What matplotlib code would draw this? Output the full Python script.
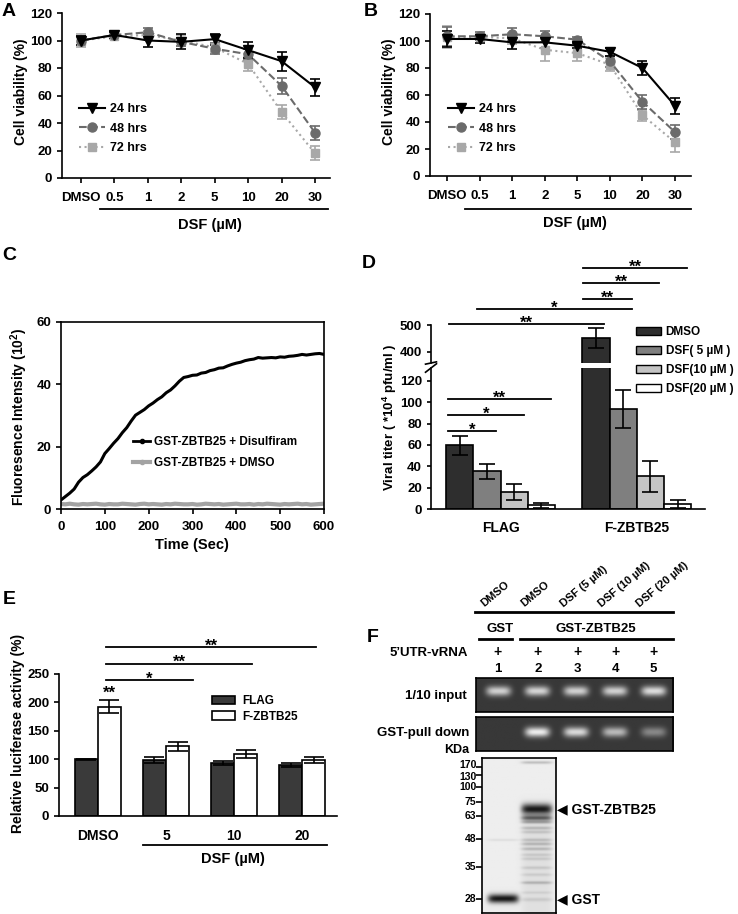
import numpy as np
import matplotlib
matplotlib.use("Agg")
import matplotlib.pyplot as plt
from matplotlib.lines import Line2D
from matplotlib.patches import Patch

plt.rcParams['font.family'] = ['Liberation Sans', 'DejaVu Sans']
plt.rcParams['font.weight'] = 'bold'
plt.rcParams['axes.labelweight'] = 'bold'
plt.rcParams['font.size'] = 9
plt.rcParams['axes.linewidth'] = 1.2
plt.rcParams['xtick.major.width'] = 1.2
plt.rcParams['ytick.major.width'] = 1.2
plt.rcParams['xtick.major.size'] = 3.5
plt.rcParams['ytick.major.size'] = 3.5
plt.rcParams['mathtext.fontset'] = 'custom'
plt.rcParams['mathtext.rm'] = 'Liberation Sans:bold'
plt.rcParams['mathtext.it'] = 'Liberation Sans:bold'
plt.rcParams['mathtext.bf'] = 'Liberation Sans:bold'

W, H = 738, 914

# ---- A / B : cell viability
doses = ["DMSO", "0.5", "1", "2", "5", "10", "20", "30"]
a_24 = [100, 104, 100, 99, 101, 93, 85, 66]
a_24_err = [3, 2, 4.5, 5.5, 4, 6, 7, 6]
a_48 = [100, 104, 106, 99, 94, 90, 67, 33]
a_48_err = [3, 2, 3, 3, 4, 4, 6, 5]
a_72 = [100, 103, 104, 100, 95, 83, 48, 18]
a_72_err = [5, 2, 3, 4, 3, 5, 5, 5]

b_24 = [101.5, 101.5, 99, 99, 96.5, 92, 80, 52]
b_24_err = [6, 3, 5, 4, 2, 3, 5, 6]
b_48 = [103.5, 103.5, 105, 103.5, 101, 85, 55, 32.5]
b_48_err = [7, 3, 5, 4, 2, 4, 5, 5]
b_72 = [103, 103, 102, 93.5, 91, 82.5, 45, 25]
b_72_err = [8, 2, 4, 8, 6, 5, 4, 7]

# ---- C : fluorescence time course
c_time = list(range(0, 601, 10))
c_dsf = [2.9, 4.0, 5.1, 6.4, 8.6, 10.1, 11.0, 12.2, 13.5, 15.1,
         17.8, 19.4, 21.1, 22.6, 24.5, 26.1, 28.2, 30.1, 31.0, 31.9,
         33.1, 34.0, 35.1, 36.0, 37.3, 38.2, 39.5, 41.0, 42.2, 42.5,
         42.9, 43.0, 43.6, 43.8, 44.4, 44.7, 45.2, 45.3, 45.9, 46.4,
         46.8, 47.1, 47.6, 47.9, 48.1, 48.6, 48.4, 48.5, 48.6, 48.5,
         48.8, 48.7, 49.0, 49.1, 49.3, 49.6, 49.4, 49.6, 49.8, 49.9, 49.6]
c_dmso = [1.6, 1.5, 1.7, 1.5, 1.4, 1.6, 1.5, 1.6, 1.7, 1.5,
          1.4, 1.6, 1.5, 1.5, 1.7, 1.6, 1.5, 1.4, 1.6, 1.7,
          1.5, 1.6, 1.5, 1.4, 1.6, 1.5, 1.7, 1.6, 1.5, 1.5,
          1.6, 1.4, 1.5, 1.7, 1.6, 1.5, 1.6, 1.4, 1.5, 1.6,
          1.7, 1.5, 1.5, 1.6, 1.4, 1.6, 1.5, 1.7, 1.6, 1.5,
          1.4, 1.6, 1.5, 1.6, 1.7, 1.5, 1.6, 1.4, 1.5, 1.6, 1.7]

# ---- D : viral titer
d_groups = ["FLAG", "F-ZBTB25"]
d_series = ["DMSO", "DSF( 5 \u00b5M )", "DSF(10 \u00b5M )", "DSF(20 \u00b5M )"]
d_flag = [59.5, 35.3, 15.6, 3.4]
d_flag_err = [9, 7, 7.5, 2.2]
d_fz = [452, 93.5, 30.6, 5]
d_fz_err = [36, 17.5, 14.5, 3.6]
d_colors = ['#2e2e2e', '#7f7f7f', '#c4c4c4', 'white']

# ---- E : luciferase
e_doses = ["DMSO", "5", "10", "20"]
e_flag = [100, 98, 93.5, 90]
e_flag_err = [1, 5, 3.5, 4]
e_fz = [192, 123, 109, 99]
e_fz_err = [11.5, 8, 7, 5]

# ---- F : pull-down
lane_labels = ["DMSO", "DMSO", "DSF (5 \u00b5M)", "DSF (10 \u00b5M)", "DSF (20 \u00b5M)"]
lane_nums = ["1", "2", "3", "4", "5"]
input_band = [0.80, 0.82, 0.80, 0.80, 0.86]
pulldown_band = [0.0, 0.95, 0.85, 0.68, 0.42]
mw_kda = ["170", "130", "100", "75", "63", "48", "35", "28"]
mw_pos = [9, 17, 29, 44, 58, 81, 109, 141]
gst_lane_bands = [(141, 0.95, 4.5), (82, 0.08, 1.0)]
zbtb_lane_bands = [(51, 0.95, 5.5), (60, 0.55, 2.5), (64, 0.3, 1.5), (70, 0.2, 1.5),
                   (74, 0.15, 1.5), (82, 0.18, 1.5), (86, 0.22, 1.5), (91, 0.2, 1.5),
                   (97, 0.12, 1.5), (101, 0.12, 1.5), (110, 0.12, 1.5), (117, 0.1, 1.5),
                   (125, 0.22, 1.5), (135, 0.08, 1.5), (142, 0.1, 2), (4, 0.2, 1.5)]

fig = plt.figure(figsize=(W / 100, H / 100), dpi=100)


def px_axes(l, t, r, b):
    return fig.add_axes([l / W, 1 - b / H, (r - l) / W, (b - t) / H])


def ftext(x, y, s, **kw):
    kw.setdefault('ha', 'center')
    kw.setdefault('va', 'center')
    fig.text(x / W, 1 - y / H, s, **kw)


def fline(x0, x1, y, lw=1.3):
    fig.add_artist(Line2D([x0 / W, x1 / W], [1 - y / H, 1 - y / H], color='black', lw=lw))


def viability(ax, s24, e24, s48, e48, s72, e72, xlim, leg_xy):
    x = np.arange(len(doses))
    kw = dict(lw=1.5, capsize=3.5, elinewidth=1.2, capthick=1.2)
    h72 = ax.errorbar(x, s72, yerr=e72, color='#a8a8a8', ls=':', marker='s', ms=5.5, **kw)
    h48 = ax.errorbar(x, s48, yerr=e48, color='#6b6b6b', ls='--', marker='o', ms=6.5, **kw)
    h24 = ax.errorbar(x, s24, yerr=e24, color='black', ls='-', marker='v', ms=7, **kw)
    ax.set_xlim(*xlim)
    ax.set_ylim(0, 120)
    ax.set_yticks(range(0, 121, 20))
    ax.set_xticks(x)
    ax.set_xticklabels(doses, fontsize=9.5)
    ax.tick_params(axis='y', labelsize=9.5)
    ax.tick_params(axis='x', pad=6.5)
    ax.spines[['top', 'right']].set_visible(False)
    ax.legend([h24[0], h48[0], h72[0]], ["24 hrs", "48 hrs", "72 hrs"],
              loc='upper left', bbox_to_anchor=(leg_xy[0] / W, 1 - leg_xy[1] / H),
              bbox_transform=fig.transFigure, frameon=False, fontsize=9,
              handlelength=2.1, handletextpad=0.4, labelspacing=0.6,
              borderpad=0, borderaxespad=0)


# Panel A
axa = px_axes(62, 13, 330, 178)
viability(axa, a_24, a_24_err, a_48, a_48_err, a_72, a_72_err, (-0.57, 7.45), (79, 103))
ftext(21, 92, "Cell viability (%)", rotation=90, fontsize=10)
fline(100, 328, 209)
ftext(210, 225, "DSF (\u00b5M)", fontsize=10.5)
ftext(9, 11, "A", fontsize=14)

# Panel B
axb = px_axes(430, 14, 691, 176)
viability(axb, b_24, b_24_err, b_48, b_48_err, b_72, b_72_err, (-0.52, 7.49), (448, 103))
ftext(389, 92, "Cell viability (%)", rotation=90, fontsize=10)
fline(465, 691, 209)
ftext(575, 223, "DSF (\u00b5M)", fontsize=10.5)
ftext(371, 11, "B", fontsize=14)

# Panel C
axc = px_axes(61, 322, 324, 509)
axc.plot(c_time, c_dsf, color='black', lw=2.2, label="GST-ZBTB25 + Disulfiram")
axc.plot(c_time, c_dmso, color='#a3a3a3', lw=3, label="GST-ZBTB25 + DMSO")
axc.set_xlim(0, 600)
axc.set_ylim(0, 60)
axc.set_xticks(range(0, 601, 100))
axc.set_yticks([0, 20, 40, 60])
axc.tick_params(labelsize=9.5, top=False, right=False)
axc.tick_params(axis='x', pad=5)
c_handles = [Line2D([], [], color='black', lw=2, marker='o', ms=3),
             Line2D([], [], color='#a3a3a3', lw=3, marker='o', ms=3)]
axc.legend(c_handles, ["GST-ZBTB25 + Disulfiram", "GST-ZBTB25 + DMSO"],
           loc='upper left', bbox_to_anchor=(133 / W, 1 - 436 / H), bbox_transform=fig.transFigure,
           frameon=False, fontsize=8.5, handlelength=1.45, handletextpad=0.3, labelspacing=0.75,
           borderpad=0, borderaxespad=0)
ftext(19, 417, "Fluoresence Intensity (10$^2$)", rotation=90, fontsize=10)
ftext(192, 545, "Time (Sec)", fontsize=10.5)
ftext(9, 256, "C", fontsize=14)

# Panel D (broken y axis)
axd_lo = px_axes(431, 368, 705, 509)
axd_hi = px_axes(431, 325, 705, 363)
axd_hi.patch.set_alpha(0)
gx = np.arange(len(d_groups))
offs = [-0.3, -0.1, 0.1, 0.3]
for ax in (axd_lo, axd_hi):
    for i in range(4):
        ax.bar(gx + offs[i], [d_flag[i], d_fz[i]], 0.2, color=d_colors[i], edgecolor='black',
               lw=1.2, yerr=[d_flag_err[i], d_fz_err[i]], capsize=6,
               error_kw=dict(lw=1.2, capthick=1.2))
    ax.set_xlim(-0.51, 1.5)
    ax.spines[['top', 'right']].set_visible(False)
axd_lo.set_ylim(0, 132)
axd_lo.set_yticks(range(0, 121, 20))
axd_lo.set_xticks(gx)
axd_lo.set_xticklabels(d_groups, fontsize=10)
axd_lo.tick_params(axis='x', length=0, pad=9)
axd_lo.tick_params(axis='y', labelsize=9.5, length=3)
axd_hi.set_ylim(359, 500)
axd_hi.set_yticks([400, 500])
axd_hi.set_xticks([])
axd_hi.spines['bottom'].set_visible(False)
axd_hi.tick_params(axis='y', labelsize=9.5, length=3)
for ax, yy in ((axd_hi, 0.0), (axd_lo, 1.0)):
    ax.plot([-0.02, 0.02], [yy - 0.03, yy + 0.03], transform=ax.transAxes, color='black',
            lw=1.2, clip_on=False)

d_lo_brackets = [(-0.386, -0.033, 73, "*"), (-0.386, 0.173, 88, "*"), (-0.386, 0.371, 103, "**")]
d_hi_brackets = [(-0.379, 0.761, 504, "**"), (-0.173, 0.967, 559, "*"), (0.607, 0.967, 596, "**"),
                 (0.607, 1.165, 656, "**"), (0.607, 1.371, 711, "**")]
for ax, brs in ((axd_lo, d_lo_brackets), (axd_hi, d_hi_brackets)):
    for x0, x1, yv, s in brs:
        ax.plot([x0, x1], [yv, yv], color='black', lw=1.3, clip_on=False)
        ax.annotate(s, ((x0 + x1) / 2, yv), xytext=(0, -2.5), textcoords='offset points',
                    ha='center', va='baseline', fontsize=12, annotation_clip=False)
fig.legend([Patch(facecolor=c, edgecolor='black', lw=1.0) for c in d_colors], d_series,
           loc='upper left', bbox_to_anchor=(636 / W, 1 - 326 / H), bbox_transform=fig.transFigure,
           frameon=False, fontsize=8.5, handlelength=2.1, handleheight=0.7, handletextpad=0.42,
           labelspacing=0.6, borderpad=0, borderaxespad=0)
ftext(390, 417, "Viral titer ( *10$^4$ pfu/ml )", rotation=90, fontsize=9.5)
ftext(369, 263, "D", fontsize=14)

# Panel E
axe = px_axes(59, 674, 337, 816)
ex = np.arange(len(e_doses))
axe.bar(ex - 0.17, e_flag, 0.34, color='#3a3a3a', edgecolor='black', lw=1.2, yerr=e_flag_err,
        capsize=7, error_kw=dict(lw=1.2, capthick=1.2), label="FLAG")
axe.bar(ex + 0.17, e_fz, 0.34, color='white', edgecolor='black', lw=1.2, yerr=e_fz_err,
        capsize=7, error_kw=dict(lw=1.2, capthick=1.2), label="F-ZBTB25")
axe.set_xlim(-0.57, 3.51)
axe.set_ylim(0, 250)
axe.set_yticks(range(0, 251, 50))
axe.set_xticks(ex)
axe.set_xticklabels(e_doses, fontsize=10)
axe.tick_params(axis='x', length=0, pad=9)
axe.tick_params(axis='y', labelsize=9.5)
axe.spines[['top', 'right']].set_visible(False)
e_brackets = [(0.118, 1.397, 239, "*"), (0.118, 2.265, 268, "**"), (0.118, 3.206, 297, "**")]
for x0, x1, yv, s in e_brackets:
    axe.plot([x0, x1], [yv, yv], color='black', lw=1.3, clip_on=False)
    axe.annotate(s, ((x0 + x1) / 2, yv), xytext=(0, -2.5), textcoords='offset points',
                 ha='center', va='baseline', fontsize=12, annotation_clip=False)
axe.annotate("**", (0.17, e_fz[0] + e_fz_err[0]), xytext=(0, 2), textcoords='offset points',
             ha='center', va='baseline', fontsize=12, annotation_clip=False)
axe.legend(loc='upper left', bbox_to_anchor=(212 / W, 1 - 695 / H), bbox_transform=fig.transFigure,
           frameon=False, fontsize=8.5, handlelength=1.95, handleheight=0.7, handletextpad=0.6,
           labelspacing=0.3, borderpad=0, borderaxespad=0)
fline(143, 327, 845)
ftext(233, 859, "DSF (\u00b5M)", fontsize=10.5)
ftext(18, 733, "Relative luciferase activity (%)", rotation=90, fontsize=10)
ftext(9, 599, "E", fontsize=14)

# Panel F
ftext(373, 638, "F", fontsize=14)
lane_x = [498, 538, 577, 615, 653]
for lx, lab in zip(lane_x, lane_labels):
    fig.text((lx - 12) / W, 1 - 609 / H, lab, rotation=40, rotation_mode='anchor',
             ha='left', va='bottom', fontsize=8)
fline(475, 673, 612, lw=2)
ftext(500, 629, "GST", fontsize=9.5)
ftext(596, 629, "GST-ZBTB25", fontsize=9.5)
fline(479, 512, 639, lw=2)
fline(520, 673, 639, lw=2)
ftext(468, 653, "5\u2019UTR-vRNA", ha='right', fontsize=9.5)
for lx, n in zip(lane_x, lane_nums):
    ftext(lx, 652, "+", fontsize=10)
    ftext(lx, 669, n, fontsize=9.5)


def rna_gel(rect, intensities, yc):
    ax = px_axes(*rect)
    xs = np.linspace(0.43, 5.51, 200)
    ys = np.linspace(0, 1, 35)
    X, Y = np.meshgrid(xs, ys)
    img = np.full(X.shape, 0.22)
    for k, amp in enumerate(intensities):
        img += amp * 0.75 * np.exp(-((X - (k + 1)) / 0.32) ** 4 - ((Y - yc) / 0.15) ** 2)
    ax.imshow(np.clip(img, 0, 1), cmap='gray', vmin=0, vmax=1, aspect='auto',
              extent=(0.43, 5.51, 1, 0), interpolation='bilinear')
    ax.set_xticks([])
    ax.set_yticks([])
    for s in ax.spines.values():
        s.set_linewidth(1.2)
    return ax


rna_gel((476, 678, 673, 712), input_band, 0.38)
rna_gel((476, 717, 673, 751), pulldown_band, 0.44)
ftext(467, 696, "1/10 input", ha='right', fontsize=9.5)
ftext(469, 733, "GST-pull down", ha='right', fontsize=9.5)
ftext(469, 750, "KDa", ha='right', fontsize=9)

axg = px_axes(482, 758, 556, 913)
xs = np.linspace(0.38, 2.56, 75)
ys = np.linspace(0, 155, 156)
X, Y = np.meshgrid(xs, ys)
dark = np.zeros(X.shape)
for lane, bands in ((1, gst_lane_bands), (2, zbtb_lane_bands)):
    prof = np.exp(-((X - lane) / 0.46) ** 6)
    for pos, amt, thick in bands:
        dark += amt * prof * np.exp(-((Y - pos) / thick) ** 2)
# general protein smear below the main band in lane 2
dark += 0.06 * np.exp(-((X - 2) / 0.46) ** 6) * (Y > 55)
gimg = np.clip(0.93 - 0.88 * dark, 0.05, 1)
axg.imshow(gimg, cmap='gray', vmin=0, vmax=1, aspect='auto', extent=(0.38, 2.56, 155, 0),
           interpolation='bilinear')
axg.set_xlim(0.38, 2.56)
axg.set_ylim(155, 0)
axg.set_xticks([])
axg.set_yticks(mw_pos)
axg.set_yticklabels([])
axg.tick_params(axis='y', length=4, width=1.2)
# marker labels; the two top ones sit very close, nudge them apart a little
mw_nudge = [1.8, -1.8, 0, 0, 0, 0, 0, 0]
for pos, lab, dy in zip(mw_pos, mw_kda, mw_nudge):
    axg.annotate(lab, (0, pos), xycoords=('axes fraction', 'data'), xytext=(-4, dy),
                 textcoords='offset points', ha='right', va='center', fontsize=7.5)
for s in axg.spines.values():
    s.set_linewidth(1.2)
axg.text(2.6, zbtb_lane_bands[0][0], "\u25c0 GST-ZBTB25", ha='left', va='center', fontsize=10,
         clip_on=False)
axg.text(2.6, gst_lane_bands[0][0], "\u25c0 GST", ha='left', va='center', fontsize=10,
         clip_on=False)

fig.savefig("out.png", dpi=100)
